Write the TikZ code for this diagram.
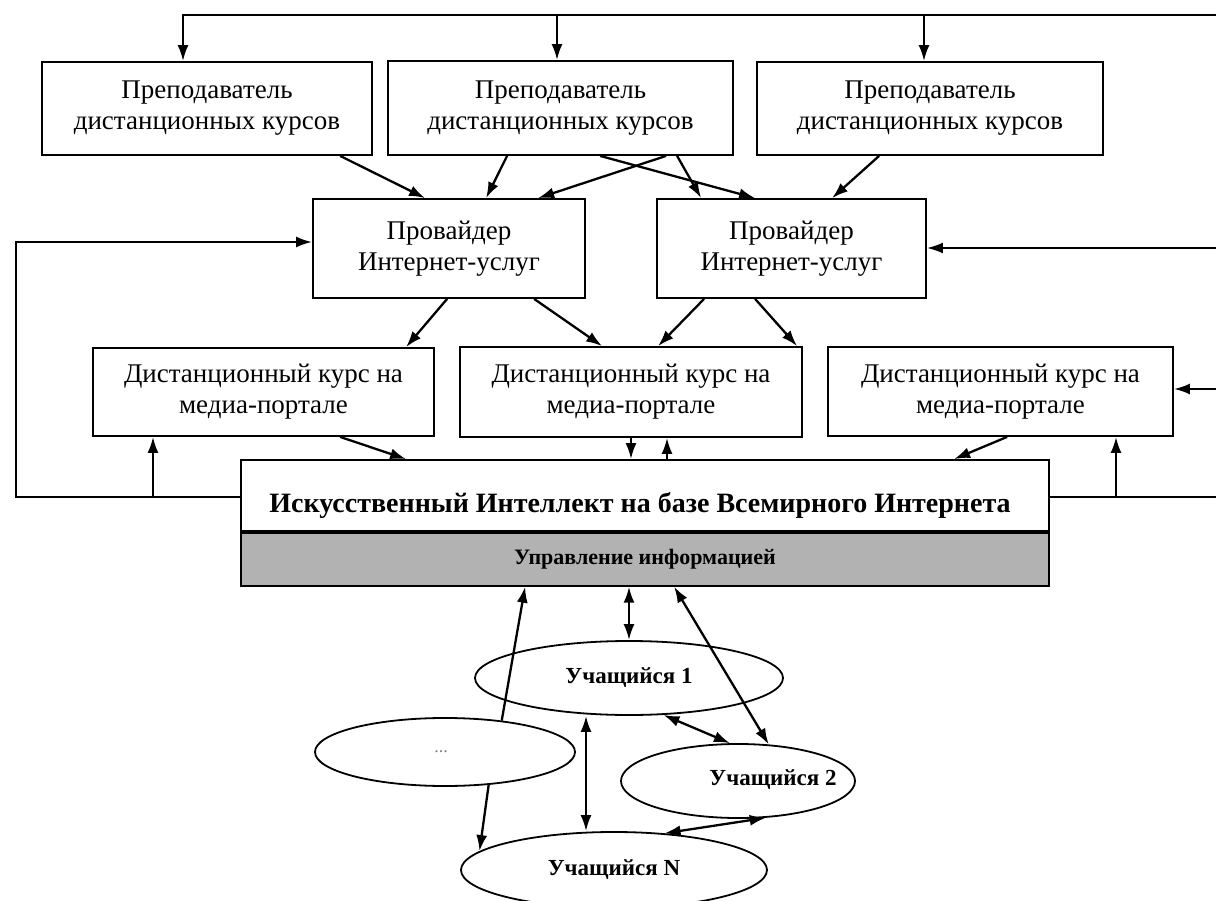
\documentclass[tikz,border=0pt]{standalone}
\usepackage{fontspec}
\setmainfont{Liberation Serif}
\usetikzlibrary{arrows.meta,shapes.geometric,calc}
\definecolor{stripgray}{RGB}{178,178,178}
\begin{document}
\begin{tikzpicture}[x=1pt,y=-1pt,
  box/.style={draw,line width=1.8pt,fill=white,align=center,inner sep=0pt,font=\fontsize{27}{31}\selectfont},
  ell/.style={draw,ellipse,line width=1.8pt,inner sep=0pt,font=\bfseries\fontsize{23}{26}\selectfont},
  elltext/.style={inner sep=0pt,font=\bfseries\fontsize{23}{26}\selectfont},
  arr/.style={line width=2.3pt,-{Latex[length=16pt,width=11pt]}},
  dbl/.style={line width=2.3pt,{Latex[length=16pt,width=11pt]}-{Latex[length=16pt,width=11pt]}},
  ln/.style={line width=2.3pt}]
\useasboundingbox (0,0) rectangle (1216,901);

% top row
\node[box,minimum width=330pt,minimum height=93pt] (T1) at (207,108.5) {Преподаватель\\дистанционных курсов};
\node[box,minimum width=345pt,minimum height=94pt] (T2) at (560.5,108) {Преподаватель\\дистанционных курсов};
\node[box,minimum width=346pt,minimum height=93pt] (T3) at (930,108.5) {Преподаватель\\дистанционных курсов};

% providers
\node[box,minimum width=272pt,minimum height=99pt] (P1) at (449,248.5) {Провайдер\\Интернет-услуг};
\node[box,minimum width=269pt,minimum height=99pt] (P2) at (791.5,248.5) {Провайдер\\Интернет-услуг};

% courses
\node[box,minimum width=341pt,minimum height=88pt] (D1) at (263.5,392) {Дистанционный курс на\\медиа-портале};
\node[box,minimum width=342pt,minimum height=90pt] (D2) at (631,392) {Дистанционный курс на\\медиа-портале};
\node[box,minimum width=345pt,minimum height=89pt] (D3) at (1000.5,391.5) {Дистанционный курс на\\медиа-портале};

% AI block
\node[box,minimum width=808pt,minimum height=71pt] (AI) at (645,495.5) {};
\node[inner sep=0pt,font=\bfseries\fontsize{28}{32}\selectfont] (AItext) at (640,505) {Искусственный Интеллект на базе Всемирного Интернета};
\node[draw,line width=1.8pt,fill=stripgray,minimum width=808pt,minimum height=53pt,anchor=north,inner sep=0pt,font=\bfseries\fontsize{22}{24}\selectfont] (AIg) at (AI.south) {Управление информацией};

% students
\node[ell,minimum width=308pt,minimum height=74pt] (U1) at (629,678) {Учащийся 1};
\node[ell,minimum width=260pt,minimum height=68pt] (Ud) at (445,752) {};
\node[inner sep=0pt,text=gray,font=\fontsize{18}{18}\selectfont] (Udt) at (441,752) {...};
\node[ell,minimum width=234pt,minimum height=74pt] (U2) at (738,781) {};
\node[elltext] (U2t) at (773,780) {Учащийся 2};
\node[ell,minimum width=306pt,minimum height=76pt] (UN) at (614,870) {Учащийся N};

% top feed line
\coordinate (topR) at (1216,15);
\coordinate (j1) at (183,15);
\coordinate (j2) at (557,15);
\coordinate (j3) at (924,15);
\draw[arr] (topR) -- (j1) -- (j1 |- T1.north);
\draw[arr] (j2) -- (j2 |- T2.north);
\draw[arr] (j3) -- (j3 |- T3.north);

% teachers -> providers
\draw[arr] ([xshift=299pt]T1.south west) -- ([xshift=113pt]P1.north west);
\draw[arr] ([xshift=120pt]T2.south west) -- ([xshift=174pt]P1.north west);
\draw[arr] ([xshift=279pt]T2.south west) -- ([xshift=226pt]P1.north west);
\draw[arr] ([xshift=213pt]T2.south west) -- ([xshift=99pt]P2.north west);
\draw[arr] ([xshift=290pt]T2.south west) -- ([xshift=45pt]P2.north west);
\draw[arr] ([xshift=123pt]T3.south west) -- ([xshift=176pt]P2.north west);

% providers -> courses
\draw[arr] ([xshift=135pt]P1.south west) -- ([xshift=314pt]D1.north west);
\draw[arr] ([xshift=222pt]P1.south west) -- ([xshift=143pt]D2.north west);
\draw[arr] ([xshift=48pt]P2.south west) -- ([xshift=199pt]D2.north west);
\draw[arr] ([xshift=99pt]P2.south west) -- ([xshift=338pt]D2.north west);

% courses <-> AI
\draw[arr] ([xshift=248pt]D1.south west) -- ([xshift=166pt]AI.north west);
\draw[arr] (D2.south) -- (D2.south |- AI.north);
\coordinate (d2u) at ([xshift=36pt]D2.south);
\draw[arr] (d2u |- AI.north) -- (d2u);
\draw[arr] ([xshift=180pt]D3.south west) -- ([xshift=714pt]AI.north west);

% left loop
\coordinate (L1) at (16,242);
\coordinate (L2) at (16,497);
\draw[arr] (L2 -| AI.west) -- (L2) -- (L1) -- (L1 -| P1.west);
\coordinate (ua) at (153,497);
\draw[arr] (ua) -- (ua |- D1.south);

% right side
\coordinate (R1) at (1216,248);
\coordinate (R2) at (1216,497);
\coordinate (R3) at (1216,389);
\draw[ln] (R2 -| AI.east) -- (R2);
\coordinate (ub) at (1116,497);
\draw[arr] (ub) -- (ub |- D3.south);
\draw[arr] (R1) -- (R1 -| P2.east);
\draw[arr] (R3) -- (R3 -| D3.east);

% students
\draw[dbl] (AIg.south -| U1.north) -- (U1.north);
\draw[arr] (Ud.29) -- ([xshift=285pt]AIg.south west);
\draw[dbl] ([xshift=434pt]AIg.south west) -- (U2.50);
\draw[dbl] (U1.-47.5) -- (U2.102);
\coordinate (vx) at (586,0);
\draw[dbl] (U1.south -| vx) -- (UN.north -| vx);
\draw[arr] (Ud.-37) -- (UN.172.5);
\draw[dbl] (U2.-53) -- (UN.36);
\end{tikzpicture}
\end{document}
